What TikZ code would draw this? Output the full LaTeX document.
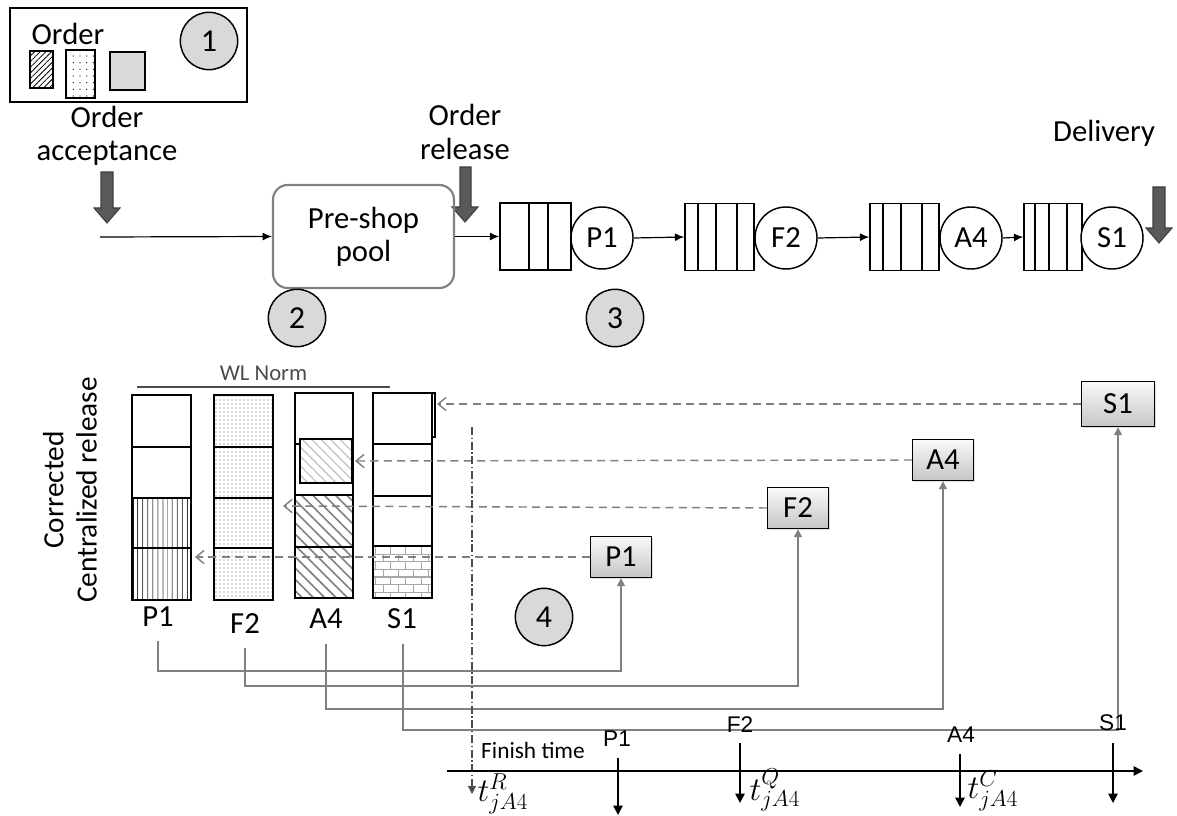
\documentclass[tikz,border=0pt]{standalone}
\usepackage{fontspec}
\setmainfont{Carlito}
\newfontfamily\arialfont{Liberation Sans}
\usetikzlibrary{arrows.meta, patterns, patterns.meta, shadows}

\begin{document}
\begin{tikzpicture}[x=0.75pt, y=-0.75pt,
  lbl/.style={font=\fontsize{23}{25}\selectfont, align=center},
  numcirc/.style={circle, draw, line width=1.1pt, fill=gray!30, minimum size=43pt, inner sep=0pt, font=\fontsize{24}{26}\selectfont},
  station/.style={circle, draw, line width=1.1pt, fill=white, minimum size=46.5pt, inner sep=0pt, font=\fontsize{23}{25}\selectfont},
  queue/.style={draw, line width=1.1pt, minimum height=50.25pt, inner sep=0pt},
  blockarrow/.style={fill=black!65, draw=black!75, line width=0.8pt},
  flow/.style={-{Latex[length=7pt,width=6pt]}, line width=0.9pt},
  wlbox/.style={draw, line width=1.1pt, top color=gray!5, bottom color=gray!45, minimum width=45.75pt, minimum height=30.75pt, inner sep=0pt, font=\fontsize{23}{25}\selectfont, drop shadow={opacity=0.25, shadow xshift=1pt, shadow yshift=-1pt}},
  feedback/.style={gray, line width=1.1pt, dash pattern=on 6pt off 4pt, -{Straight Barb[length=6pt,width=10pt]}},
  route/.style={gray, line width=1.2pt, -{Triangle[length=6pt,width=6pt]}},
  finish/.style={line width=1.1pt, -{Triangle[length=7pt,width=7pt]}},
  cell/.style={draw, line width=1.1pt},
  axlbl/.style={font=\arialfont\fontsize{17}{19}\selectfont},
  tlbl/.style={font=\fontsize{25}{27}\selectfont, inner sep=1pt}
]
  \useasboundingbox (0,0) rectangle (1177,816);

  %% Legend box
  \draw[line width=1.1pt] (10,8) rectangle (247,102);
  \node[lbl] (ordlbl) at (68,34) {Order};
  \draw[cell, pattern={Lines[angle=45,distance=3pt,line width=0.6pt]}] (30,51) rectangle (53,88);
  \draw[cell, pattern={Dots[distance=5pt,radius=0.45pt]}] (66,50) rectangle (95,98);
  \draw[cell, fill=gray!30] (110,52) rectangle (145,90);
  \node[numcirc] (n1) at (209,41) {1};

  %% Shop floor flow
  \node[lbl] (acc) at (107,136) {Order\\acceptance};
  \node[lbl] (rel) at (465,132) {Order\\release};
  \node[lbl] (del) at (1104,133) {Delivery};

  \filldraw[blockarrow] (101,172) -- (113,172) -- (113,208) -- (120,208) -- (107,223)
    -- (94,208) -- (101,208) -- cycle;
  \filldraw[blockarrow] (460,167) -- (471,167) -- (471,207) -- (478,207) -- (465,222)
    -- (452,207) -- (460,207) -- cycle;
  \filldraw[blockarrow] (1153,187) -- (1165,187) -- (1165,228) -- (1172,228) -- (1159,243)
    -- (1146,228) -- (1153,228) -- cycle;

  \node[draw=gray, line width=1.6pt, rounded corners=11pt, minimum width=135.75pt,
    minimum height=77.25pt, lbl] (pool) at (363.5,236.5) {Pre-shop\\pool};
  \coordinate (start) at (100,237);

  \node[queue, minimum width=53.25pt] (q1) at (535.5,236.5) {};
  \foreach \xx in {529,548} \draw[line width=1.1pt] (\xx,203) -- (\xx,270);
  \node[station] (sP1) at (602,238) {P1};

  \node[queue, minimum width=51.75pt] (q2) at (719.5,237) {};
  \foreach \xx in {698,716,737} \draw[line width=1.1pt] (\xx,204) -- (\xx,270);
  \node[station] (sF2) at (786,238) {F2};

  \node[queue, minimum width=51.75pt] (q3) at (904.5,237) {};
  \foreach \xx in {883,901,922} \draw[line width=1.1pt] (\xx,204) -- (\xx,270);
  \node[station] (sA4) at (971,238) {A4};

  \node[queue, minimum width=43.5pt] (q4) at (1053,237) {};
  \foreach \xx in {1035,1049,1067} \draw[line width=1.1pt] (\xx,204) -- (\xx,270);
  \node[station] (sS1) at (1112,238) {S1};

  \draw[flow] (start) -- (pool.west);
  \draw[flow] (pool.east |- q1.west) -- (q1.west);
  \draw[flow] (sP1.east) -- (q2.west);
  \draw[flow] (sF2.east) -- (q3.west);
  \draw[flow] (sA4.east) -- (q4.west);

  \node[numcirc] (n2) at (297,318) {2};
  \node[numcirc] (n3) at (615,318) {3};

  %% Workload bars
  \node[rotate=90, lbl, font=\fontsize{22}{25}\selectfont] (corr) at (70,490) {Corrected\\Centralized release};
  \draw[line width=1.1pt, gray!60!black] (137,387) -- (390,387)
    node[midway, above=1pt, font=\fontsize{17}{19}\selectfont] (wl) {WL Norm};

  % P1
  \fill[pattern={Lines[angle=90,distance=4pt,line width=0.6pt]}] (132,498) rectangle (191,600);
  \draw[cell] (132,395) rectangle (191,600);
  \foreach \yy in {447,498,548} \draw[cell] (132,\yy) -- (191,\yy);
  % F2
  \fill[pattern={Dots[distance=3pt,radius=0.4pt]}, pattern color=gray!80!black] (214,395) rectangle (273,600);
  \draw[cell] (214,395) rectangle (273,600);
  \foreach \yy in {447,498,548} \draw[cell] (214,\yy) -- (273,\yy);
  % A4
  \fill[pattern={Lines[angle=-45,distance=6pt,line width=1.2pt]}, pattern color=gray] (295,495) rectangle (353,598);
  \draw[cell] (295,393) rectangle (353,598);
  \foreach \yy in {444,495,547} \draw[cell] (295,\yy) -- (353,\yy);
  \draw[cell, preaction={fill=white}, pattern={Lines[angle=-45,distance=5pt,line width=1pt]},
    pattern color=gray!45] (300,439) rectangle (352,483);
  % S1
  \fill[pattern=bricks, pattern color=gray!70] (373,546) rectangle (432,598);
  \draw[cell] (373,393) rectangle (432,598);
  \foreach \yy in {444,496,546} \draw[cell] (373,\yy) -- (432,\yy);
  \draw[line width=0.8pt] (432,393) rectangle (435,437);

  \node[lbl] (lbP1) at (158,617) {P1};
  \node[lbl] (lbF2) at (245,624) {F2};
  \node[lbl] (lbA4) at (326,619) {A4};
  \node[lbl] (lbS1) at (402,619) {S1};

  \node[numcirc] (n4) at (544,617) {4};

  %% Workload contributions
  \node[wlbox] (bxP1) at (621,557) {P1};
  \node[wlbox] (bxF2) at (798,508) {F2};
  \node[wlbox] (bxA4) at (943,460) {A4};
  \node[wlbox, minimum width=54.75pt, minimum height=33.75pt] (bxS1) at (1118,404) {S1};

  \coordinate (tipP1) at (195,557);
  \coordinate (tipF2) at (283,506);
  \coordinate (tipA4) at (355,461);
  \coordinate (tipS1) at (437,404);
  \draw[feedback] (bxP1.west) -- (tipP1);
  \draw[feedback] (bxF2.west) -- (tipF2);
  \draw[feedback] (bxA4.west) -- (tipA4);
  \draw[feedback] (bxS1.west) -- (tipS1);

  \coordinate (rP1) at (158,641);
  \coordinate (rF2) at (245,648);
  \coordinate (rA4) at (326,644);
  \coordinate (rS1) at (403,644);
  \draw[route] (rP1) -- ++(0,30) -| (bxP1.south);
  \draw[route] (rF2) -- ++(0,38) -| (bxF2.south);
  \draw[route] (rA4) -- ++(0,65) -| (bxA4.south);
  \draw[route] (rS1) -- ++(0,86) -| (bxS1.south);

  %% Release time
  \coordinate (relTop) at (472,427);
  \coordinate (relBot) at (472,794);
  \draw[gray!60!black, line width=0.9pt, dash pattern=on 6pt off 2pt on 1pt off 2pt,
    -{Triangle[length=6pt,width=6pt]}] (relTop) -- (relBot);

  %% Finish time axis
  \coordinate (ax0) at (447,771);
  \coordinate (ax1) at (1143,771);
  \draw[finish] (ax0) -- (ax1);
  \node[font=\fontsize{17.5}{19}\selectfont] (fin) at (533,750) {Finish time};

  \node[axlbl] (tmP1) at (617,739) {P1};
  \node[axlbl] (tmF2) at (740,725) {F2};
  \node[axlbl] (tmA4) at (961,735) {A4};
  \node[axlbl] (tmS1) at (1113,723) {S1};

  \coordinate (fP1a) at (618,758); \coordinate (fP1b) at (618,815);
  \coordinate (fF2a) at (740,743); \coordinate (fF2b) at (740,803);
  \coordinate (fA4a) at (960,754); \coordinate (fA4b) at (960,807);
  \coordinate (fS1a) at (1113,743); \coordinate (fS1b) at (1113,803);
  \draw[finish] (fP1a) -- (fP1b);
  \draw[finish] (fF2a) -- (fF2b);
  \draw[finish] (fA4a) -- (fA4b);
  \draw[finish] (fS1a) -- (fS1b);

  \node[tlbl, anchor=west] (tR) at (476,794) {$t^{R}_{jA4}$};
  \node[tlbl, anchor=west] (tQ) at (748,790) {$t^{Q}_{jA4}$};
  \node[tlbl, anchor=west] (tC) at (966,791) {$t^{C}_{jA4}$};
\end{tikzpicture}
\end{document}
